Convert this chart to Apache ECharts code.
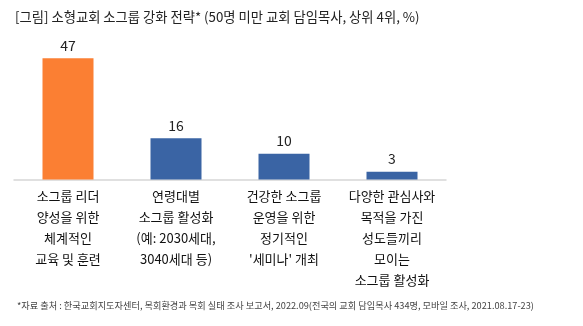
<!DOCTYPE html>
<html><head><meta charset="utf-8">
<script src="https://cdn.jsdelivr.net/npm/echarts@6/dist/echarts.min.js"></script>
<style>html,body{margin:0;padding:0;background:#fff}#c{width:583px;height:326px}</style>
</head><body><div id="c"></div>
<script>
const titleText = '[그림] 소형교회 소그룹 강화 전략* (50명 미만 교회 담임목사, 상위 4위, %)';
const noteText = '*자료 출처 : 한국교회지도자센터, 목회환경과 목회 실태 조사 보고서, 2022.09(전국의 교회 담임목사 434명, 모바일 조사, 2021.08.17-23)';
const categories = [
  '소그룹 리더\n양성을 위한\n체계적인\n교육 및 훈련',
  '연령대별\n소그룹 활성화\n(예: 2030세대,\n3040세대 등)',
  '건강한 소그룹\n운영을 위한\n정기적인\n\'세미나\' 개최',
  '다양한 관심사와\n목적을 가진\n성도들끼리\n모이는\n소그룹 활성화'
];
const values = [47, 16, 10, 3];
const colors = ['#FB7F33', '#3A64A4', '#3A64A4', '#3A64A4'];

const font = '"Noto Sans CJK KR", "Noto Sans", sans-serif';
const chart = echarts.init(document.getElementById('c'));
chart.setOption({
  animation: false,
  textStyle: { fontFamily: font },
  title: [
    { text: titleText, left: 10, top: 5, textStyle: { fontSize: 13.3, fontWeight: 'normal', color: '#222', fontFamily: font } },
    { text: noteText, left: 12, top: 296, textStyle: { fontSize: 9.2, fontWeight: 'normal', color: '#444', fontFamily: font } }
  ],
  grid: { left: 14, top: 50.5, width: 432, bottom: 146.5, containLabel: false },
  xAxis: {
    type: 'category', data: categories,
    axisLine: { lineStyle: { color: '#d6d6d6', width: 1.5 } },
    axisTick: { show: false },
    axisLabel: { interval: 0, fontSize: 13, lineHeight: 21, color: '#111', margin: 6, fontFamily: font }
  },
  yAxis: { type: 'value', min: 0, max: 50, show: false, splitLine: { show: false } },
  series: [{
    type: 'bar', data: values.map((v, i) => ({ value: v, itemStyle: { color: colors[i] } })),
    barWidth: 51,
    label: { show: true, position: 'top', distance: 6, fontSize: 14, color: '#222', fontFamily: font }
  }]
});
</script></body></html>
